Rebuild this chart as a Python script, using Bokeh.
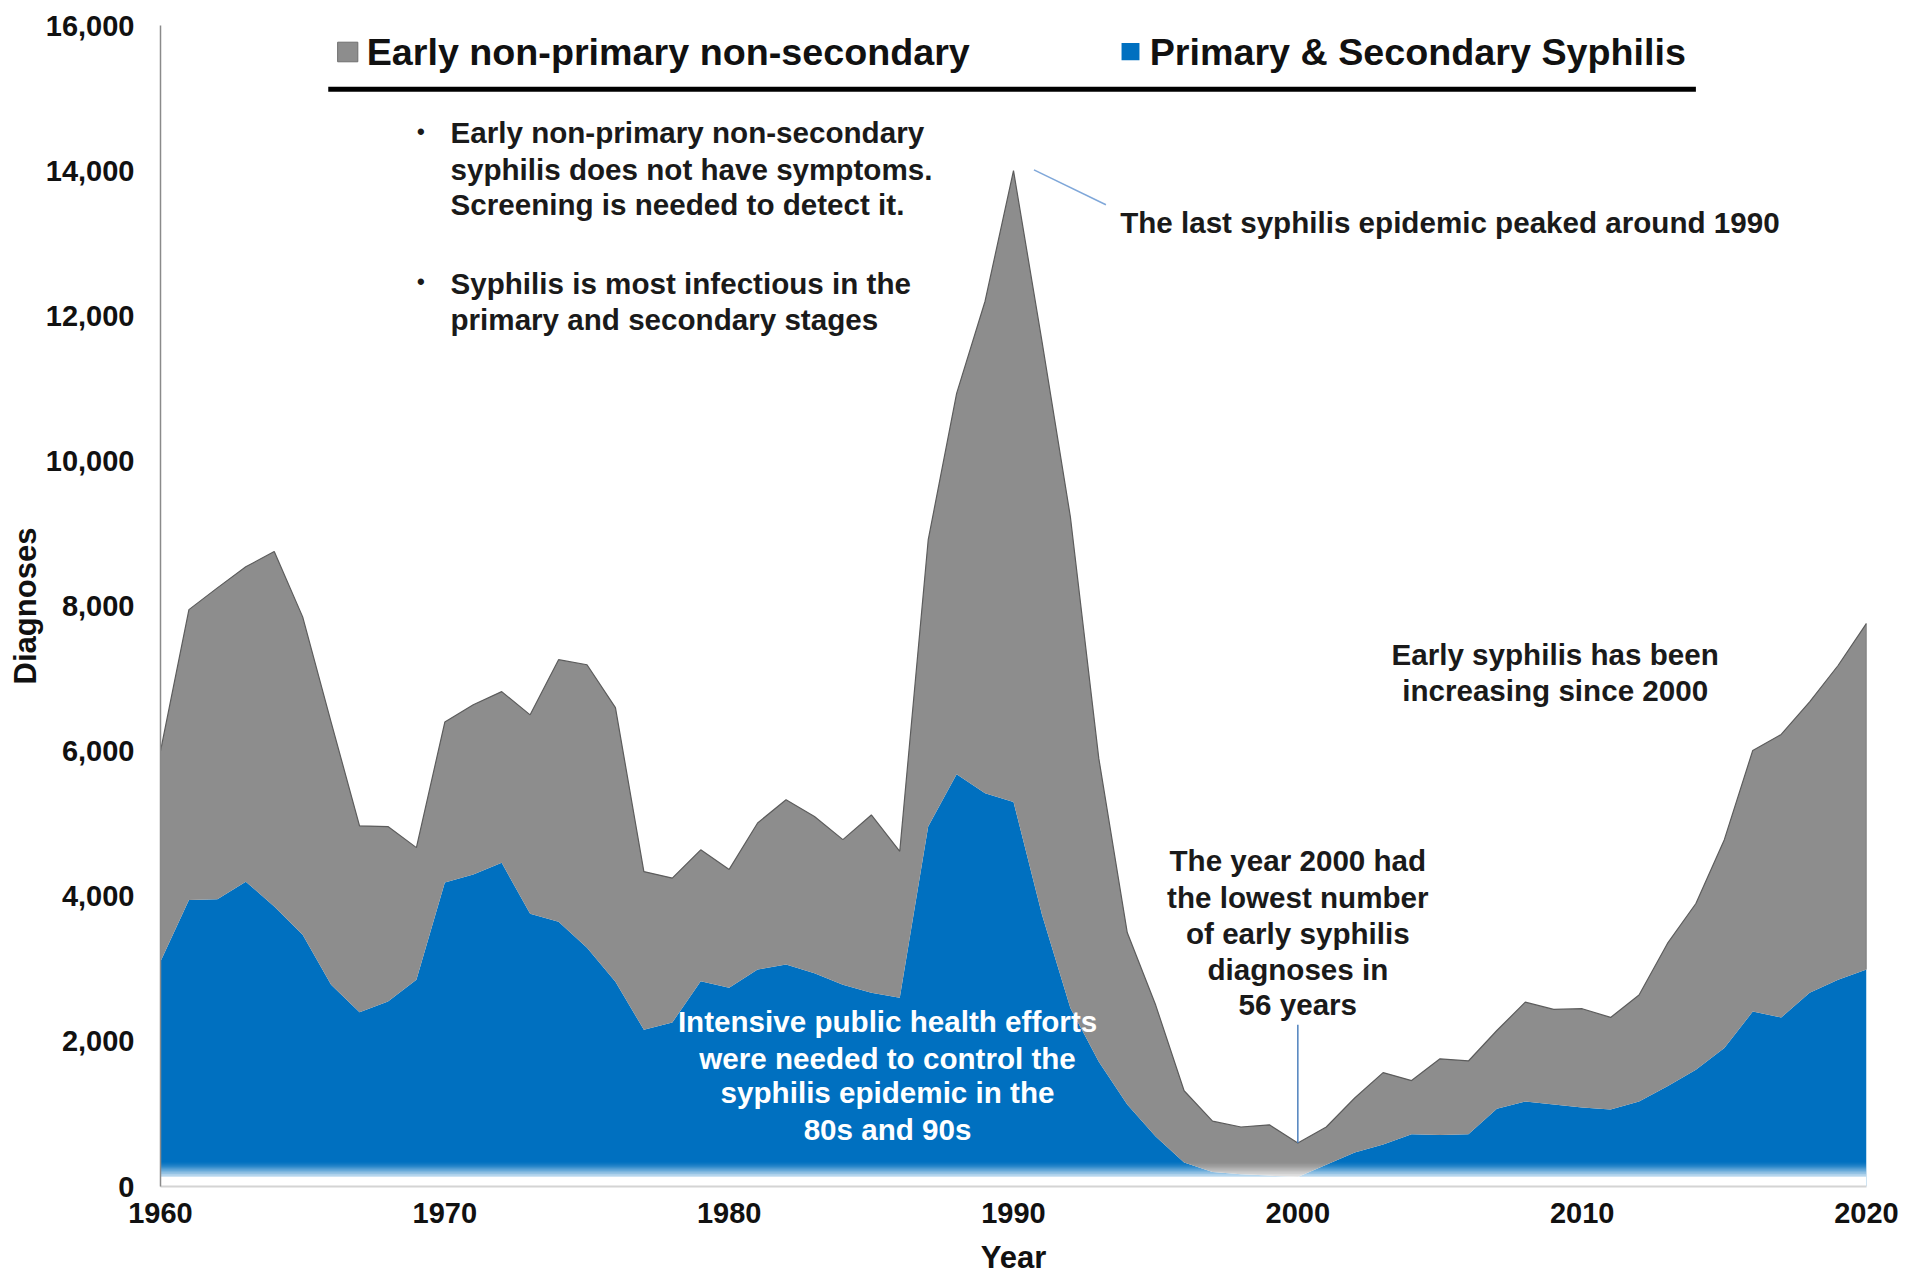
from bokeh.plotting import figure
from bokeh.models import ColumnDataSource, FixedTicker, NumeralTickFormatter, Range1d
from bokeh.core.properties import value
from bokeh.embed import file_html
from bokeh.resources import INLINE

# ---- data -------------------------------------------------------------
years = list(range(1960, 2021))

primary_secondary = [
    3100, 3950, 3960, 4200, 3860, 3470, 2780, 2400, 2550, 2850,   # 1960s
    4190, 4300, 4460, 3760, 3650, 3290, 2820, 2160, 2260, 2830,   # 1970s
    2740, 2990, 3060, 2940, 2780, 2670, 2600, 4960, 5680, 5420,   # 1980s
    5300, 3750, 2460, 1720, 1130, 690, 330, 200, 170, 150,        # 1990s
    130, 300, 470, 580, 720, 710, 720, 1070, 1170, 1130,          # 2000s
    1090, 1060, 1170, 1380, 1610, 1910, 2410, 2330, 2670, 2850,   # 2010s
    2990,                                                         # 2020
]

early_non_primary_non_secondary = [
    2900, 4000, 4290, 4340, 4890, 4380, 3620, 2570, 2410, 1820,   # 1960s
    2210, 2340, 2360, 2740, 3610, 3900, 3780, 2180, 1990, 1810,   # 1970s
    1630, 2020, 2270, 2160, 2000, 2450, 2020, 3950, 5250, 6780,   # 1980s
    8700, 7900, 6770, 4180, 2370, 1810, 990, 700, 650, 700,       # 1990s
    470, 520, 750, 990, 740, 1050, 1010, 1080, 1370, 1310,        # 2000s
    1360, 1270, 1470, 1970, 2290, 2870, 3600, 3900, 4010, 4330,   # 2010s
    4770,                                                         # 2020
]

series_labels = ["Early non-primary non-secondary", "Primary & Secondary Syphilis"]
x_ticks = [1960, 1970, 1980, 1990, 2000, 2010, 2020]
y_ticks = [0, 2000, 4000, 6000, 8000, 10000, 12000, 14000, 16000]

GRAY = "#8d8d8d"
BLUE = "#0070c0"
FONT = "Liberation Sans"

total = [a + b for a, b in zip(primary_secondary, early_non_primary_non_secondary)]
src = ColumnDataSource(dict(year=years, ps=primary_secondary,
                            enps=early_non_primary_non_secondary, total=total))

# ---- figure -----------------------------------------------------------
p = figure(width=1921, height=1277, output_backend="svg", toolbar_location=None,
           x_range=Range1d(1960, 2020), y_range=Range1d(0, 16000),
           min_border_left=160, min_border_right=55,
           min_border_top=25, min_border_bottom=90)
p.background_fill_color = "white"
p.border_fill_color = "white"
p.outline_line_color = None
p.xgrid.visible = False
p.ygrid.visible = False

# stacked areas
p.varea_stack(stackers=["ps", "enps"], x="year", color=[BLUE, GRAY], source=src)
p.line("year", "total", source=src, line_color="#5c5c5c", line_width=1.2)
p.segment(x0=[years[-1]], y0=[primary_secondary[-1]], x1=[years[-1]], y1=[total[-1]],
          line_color="#5c5c5c", line_width=1.2)

# soft white fade along the baseline
fade_full, fade_top, steps = 140, 350, 21
p.quad(left=[1960], right=[2020], bottom=[0], top=[fade_full],
       fill_color="white", line_color=None)
band = (fade_top - fade_full) / steps
lefts, rights, bottoms, tops, alphas = [], [], [], [], []
for i in range(steps):
    b = fade_full + i * band
    t = (i + 0.5) / steps
    lefts.append(1960)
    rights.append(2020)
    bottoms.append(b)
    tops.append(b + band)
    alphas.append((1 - t) ** 1.6)
p.quad(left=lefts, right=rights, bottom=bottoms, top=tops,
       fill_color="white", fill_alpha=alphas, line_color=None)

# ---- legend (drawn across the top) -------------------------------------
p.quad(left=[1966.23], right=[1966.94], bottom=[15500], top=[15770],
       fill_color=GRAY, line_color="#6e6e6e", line_width=1)
p.quad(left=[1993.80], right=[1994.43], bottom=[15520], top=[15760],
       fill_color=BLUE, line_color=None)
p.text(x=[1967.25, 1994.79], y=[15630, 15630], text=series_labels,
       text_font=value(FONT), text_font_style="bold", text_font_size="37.7px",
       text_baseline="middle", text_align="left", text_color="#111111")
p.segment(x0=[1965.9], y0=[15120], x1=[2014.0], y1=[15120],
          line_color="black", line_width=5)

# ---- annotations -------------------------------------------------------
def lines(xs, ys, texts, color="#1a1a1a", align="left", size="29.6px"):
    p.text(x=xs, y=ys, text=texts, text_font=value(FONT), text_font_style="bold",
           text_font_size=size, text_baseline="middle", text_align=align,
           text_color=color)

lines([1969.02, 1969.02], [14540, 12470], ["•", "•"], size="22px")
lines([1970.2] * 5, [14530, 14010, 13530, 12450, 11950],
      ["Early non-primary non-secondary",
       "syphilis does not have symptoms.",
       "Screening is needed to detect it.",
       "Syphilis is most infectious in the",
       "primary and secondary stages"])

p.segment(x0=[1990.72], y0=[14010], x1=[1993.25], y1=[13530],
          line_color="#7fa7d9", line_width=1.5)
lines([1993.75], [13290], ["The last syphilis epidemic peaked around 1990"])

lines([1985.57] * 4, [2280, 1770, 1290, 790],
      ["Intensive public health efforts",
       "were needed to control the",
       "syphilis epidemic in the",
       "80s and 90s"], color="white", align="center")

lines([2000.0] * 5, [4490, 3980, 3490, 2990, 2510],
      ["The year 2000 had",
       "the lowest number",
       "of early syphilis",
       "diagnoses in",
       "56 years"], align="center")
p.segment(x0=[2000.0], y0=[2230], x1=[2000.0], y1=[total[years.index(2000)]],
          line_color="#4f81bd", line_width=1.5)

lines([2009.05, 2009.05], [7330, 6840],
      ["Early syphilis has been", "increasing since 2000"], align="center")

# ---- axes --------------------------------------------------------------
p.xaxis.ticker = FixedTicker(ticks=x_ticks)
p.yaxis.ticker = FixedTicker(ticks=y_ticks)
p.yaxis.formatter = NumeralTickFormatter(format="0,0")
p.xaxis.axis_label = "Year"
p.yaxis.axis_label = "Diagnoses"

for ax in (p.xaxis, p.yaxis):
    ax.major_label_text_font = FONT
    ax.major_label_text_font_style = "bold"
    ax.major_label_text_font_size = "29px"
    ax.major_label_text_color = "#111111"
    ax.axis_label_text_font = FONT
    ax.axis_label_text_font_style = "bold"
    ax.axis_label_text_font_size = "31px"
    ax.axis_label_text_color = "#111111"
    ax.major_tick_out = 0
    ax.major_tick_in = 0
    ax.minor_tick_out = 0
    ax.minor_tick_in = 0

p.yaxis.axis_line_color = "#8a8a8a"
p.yaxis.axis_line_width = 1.5
p.yaxis.major_label_standoff = 26
p.yaxis.axis_label_standoff = 0
p.xaxis.axis_line_color = "#d4d4d4"
p.xaxis.axis_line_width = 2
p.xaxis.major_label_standoff = 16
p.xaxis.axis_label_standoff = 14

open("out.html", "w").write(file_html(p, INLINE))
